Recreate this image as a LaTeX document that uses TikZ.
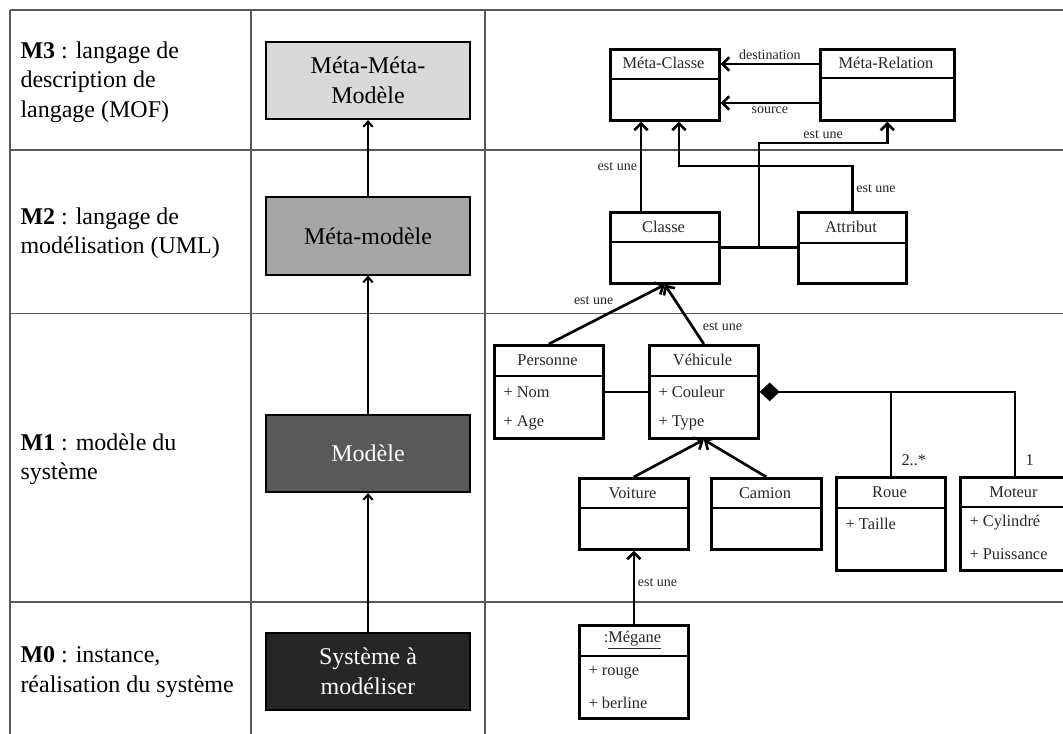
\documentclass[tikz,border=0pt]{standalone}
\usepackage{fontspec}
\setmainfont{Liberation Serif}
\usetikzlibrary{arrows.meta}

\tikzset{every picture/.style={line width=0.75pt}}
\tikzset{
	tablerule/.style={draw=black!65, line width=1pt},
	levelbox/.style={draw, line width=1.5pt, minimum width=153pt, minimum height=57.75pt, inner sep=0pt, align=center, font=\fontsize{18}{22.5}\selectfont},
	leveltext/.style={anchor=west, inner sep=0pt, align=left, font=\fontsize{18}{22}\selectfont},
	levelarrow/.style={line width=1.5pt, -{Straight Barb[length=4pt,width=7pt]}},
	umlbox/.style={draw, line width=2pt, anchor=north west, inner sep=0pt, minimum width=81.75pt, minimum height=53.25pt},
	umltitle/.style={inner sep=0pt, text=black!85, font=\fontsize{12.3}{14}\selectfont},
	umlattr/.style={umltitle, anchor=west},
	umlline/.style={line width=2pt},
	umlarrow/.style={line width=2pt, -{Straight Barb[length=5pt,width=10pt]}},
	umllabel/.style={inner sep=2pt, text=black!85, font=\fontsize{10.5}{12}\selectfont}
}

\begin{document}
\begin{tikzpicture}[x=0.75pt,y=0.75pt,yscale=-1,xscale=1]
		\useasboundingbox (0,0) rectangle (1063,734);

		%Table rules
		\draw[tablerule] (10,10) -- (1063,10) ;
		\draw[tablerule] (10,150) -- (1063,150) ;
		\draw[tablerule] (10,313.5) -- (1063,313.5) ;
		\draw[tablerule] (10,602) -- (1063,602) ;
		\draw[tablerule] (10,10) -- (10,734) ;
		\draw[tablerule] (251,10) -- (251,734) ;
		\draw[tablerule] (485,10) -- (485,734) ;

		%Level texts
		\node[leveltext] (m3) at (20,82) {\textbf{M3} : langage de\\description de\\langage (MOF)};
		\node[leveltext] (m2) at (20,233) {\textbf{M2} : langage de\\modélisation (UML)};
		\node[leveltext] (m1) at (20,459) {\textbf{M1} : modèle du\\système};
		\node[leveltext] (m0) at (20,672) {\textbf{M0} : instance,\\réalisation du système};

		%Shape: Rectangle
		\node[levelbox, fill=black!15] (mmm) at (368,80.5) {Méta-Méta-\\Modèle};
		%Shape: Rectangle
		\node[levelbox, fill=black!35] (metamodele) at (368,236) {Méta-modèle};
		%Shape: Rectangle
		\node[levelbox, fill=black!65, text=white] (modele) at (368,453.5) {Modèle};
		%Shape: Rectangle
		\node[levelbox, fill=black!85, text=white] (systeme) at (368,671) {Système à\\modéliser};

		%Straight Lines
		\draw[levelarrow] (systeme) -- (modele) ;
		\draw[levelarrow] (modele) -- (metamodele) ;
		\draw[levelarrow] (metamodele) -- (mmm) ;

		%Class: Méta-Classe
		\node[umlbox] (metacl) at (609,48) {};
		\node[umltitle] (metacltitle) at (663.5,63) {Méta-Classe};
		\draw[umlline] (metacl.west |- 0,79) -- (metacl.east |- 0,79) ;
		%Class: Méta-Relation
		\node[umlbox, minimum width=100.5pt] (metarel) at (819,48) {};
		\node[umltitle] (metareltitle) at (886,63) {Méta-Relation};
		\draw[umlline] (metarel.west |- 0,78) -- (metarel.east |- 0,78) ;
		%Class: Classe
		\node[umlbox] (classe) at (609,211) {};
		\node[umltitle] (classetitle) at (663.5,227) {Classe};
		\draw[umlline] (classe.west |- 0,242) -- (classe.east |- 0,242) ;
		%Class: Attribut
		\node[umlbox, minimum width=81pt] (attribut) at (797,211) {};
		\node[umltitle] (attributtitle) at (851,227) {Attribut};
		\draw[umlline] (attribut.west |- 0,243) -- (attribut.east |- 0,243) ;

		%Class: Personne
		\node[umlbox, minimum height=69.75pt] (personne) at (493,344) {};
		\node[umltitle] (personnetitle) at (547.5,360) {Personne};
		\draw[umlline] (personne.west |- 0,376) -- (personne.east |- 0,376) ;
		\node[umlattr] (nom) at (503,392) {+ Nom};
		\node[umlattr] (age) at (503,423) {+ Age};
		%Class: Véhicule
		\node[umlbox, minimum height=69.75pt] (vehicule) at (648,344) {};
		\node[umltitle] (vehiculetitle) at (702.5,360) {Véhicule};
		\draw[umlline] (vehicule.west |- 0,376) -- (vehicule.east |- 0,376) ;
		\node[umlattr] (couleur) at (658,392) {+ Couleur};
		\node[umlattr] (type) at (658,423) {+ Type};
		%Class: Voiture
		\node[umlbox] (voiture) at (578,477) {};
		\node[umltitle] (voituretitle) at (632.5,493) {Voiture};
		\draw[umlline] (voiture.west |- 0,508) -- (voiture.east |- 0,508) ;
		%Class: Camion
		\node[umlbox, minimum width=82.5pt] (camion) at (710,477) {};
		\node[umltitle] (camiontitle) at (765,493) {Camion};
		\draw[umlline] (camion.west |- 0,508) -- (camion.east |- 0,508) ;
		%Class: Roue
		\node[umlbox, minimum height=69.75pt] (roue) at (835,476) {};
		\node[umltitle] (rouetitle) at (889.5,492) {Roue};
		\draw[umlline] (roue.west |- 0,508) -- (roue.east |- 0,508) ;
		\node[umlattr] (taille) at (845,524) {+ Taille};
		%Class: Moteur
		\node[umlbox, minimum height=69.75pt] (moteur) at (959,476) {};
		\node[umltitle] (moteurtitle) at (1013.5,492) {Moteur};
		\draw[umlline] (moteur.west |- 0,507) -- (moteur.east |- 0,507) ;
		\node[umlattr] (cylindre) at (969,523) {+ Cylindré};
		\node[umlattr] (puissance) at (969,554) {+ Puissance};
		%Object: Mégane
		\node[umlbox, minimum height=69.75pt] (megane) at (578,624) {};
		\node[umltitle] (meganetitle) at (632.5,640) {:\underline{Mégane}};
		\draw[umlline] (megane.west |- 0,656) -- (megane.east |- 0,656) ;
		\node[umlattr] (rouge) at (588,673) {+ rouge};
		\node[umlattr] (berline) at (588,703) {+ berline};

		%Straight Lines
		\draw[umlarrow] (metarel.west |- 0,64) -- (metacl.east |- 0,64) node[midway, above, umllabel] {destination} ;
		\draw[umlarrow] (metarel.west |- 0,103) -- (metacl.east |- 0,103) node[midway, below, umllabel] {source} ;
		\draw[umlarrow] (641,0 |- classe.north) -- (641,0 |- metacl.south) node[midway, left, umllabel] {est une} ;
		\draw[umlarrow] (attribut.north) -- (attribut.north |- 0,166) node[midway, right, umllabel] {est une} -| (679,0 |- metacl.south) ;
		\draw[umlline] (classe.east) -- coordinate (assoc) (attribut.west) ;
		\draw[umlarrow] (assoc) |- (metarel.south |- 0,143) node[pos=0.75, above, umllabel] {est une} -- (metarel.south) ;

		\draw[umlarrow] (personne.north) -- (classe.south) node[pos=0.59, above left, umllabel] {est une} ;
		\draw[umlarrow] (vehicule.north) -- (classe.south) node[pos=0.3, right=5pt, umllabel] {est une} ;
		\draw[umlline] (personne.east) -- (vehicule.west) ;
		\draw[umlline, {Diamond[length=15pt,width=14pt]}-] (vehicule.east) -| (moteur.north) node[pos=1, above right=7pt, umltitle] {1} ;
		\draw[umlline] (roue.north) node[above right=7pt, umltitle] {2..*} -- (roue.north |- vehicule.east) ;
		\draw[umlarrow] (voiture.north) -- (vehicule.south) ;
		\draw[umlarrow] (camion.north) -- (vehicule.south) ;
		\draw[umlarrow] (megane.north) -- (voiture.south) node[pos=0.57, right, umllabel] {est une} ;

		\end{tikzpicture}
\end{document}
